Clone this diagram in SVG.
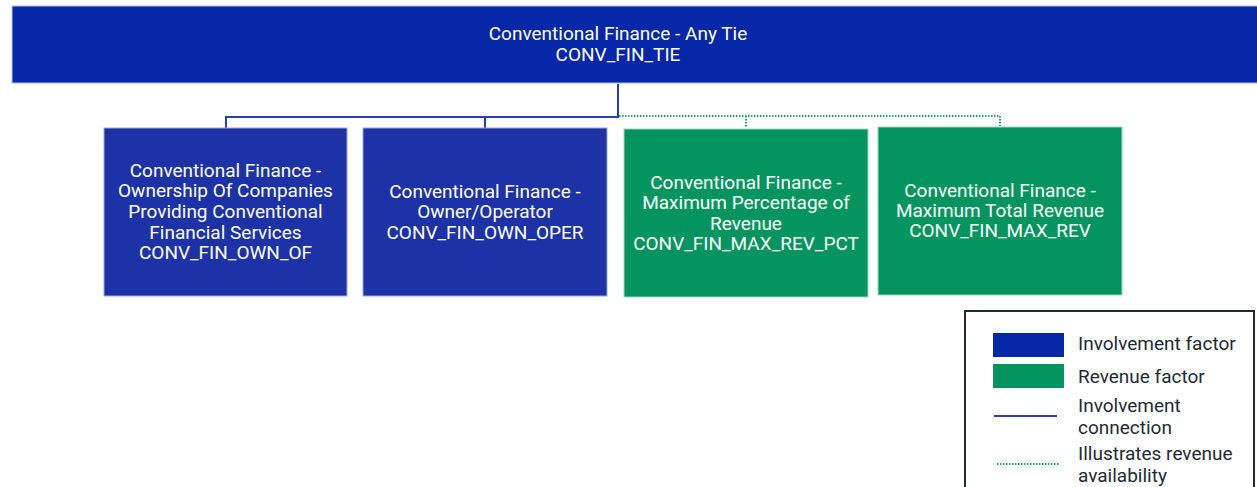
<svg xmlns="http://www.w3.org/2000/svg" width="1257" height="487" viewBox="0 0 1257 487">
<style>
.t{font-family:Roboto,"Liberation Sans",sans-serif;font-size:19px;fill:#ffffff;text-anchor:middle}
.lg{font-family:Roboto,"Liberation Sans",sans-serif;font-size:19px;fill:#1d2a36}
.inv{fill:#1e32a8;stroke:#9aa6dd;stroke-width:1}
.rev{fill:#03945f;stroke:#9fd6c0;stroke-width:1}
.cb{stroke:#2a3fb5;stroke-width:2;fill:none}
.cg{stroke:#2aa673;stroke-width:2;fill:none;stroke-dasharray:1.5 1.5}
</style>
<rect width="1257" height="487" fill="#ffffff"/>
<g id="root">
<rect x="12" y="6" width="1250" height="77" fill="#0527a8" stroke="#b6c0e6" stroke-width="1"/>
<text class="t" x="618" y="40">Conventional Finance - Any Tie</text>
<text class="t" x="618" y="61">CONV_FIN_TIE</text>
</g>
<g id="connectors">
<path class="cb" d="M618 84 V117 H226 V128 M485 117 V128"/>
<path class="cg" d="M619 116 H1000 V126 M746 116 V128"/>
</g>
<g id="n1">
<rect class="inv" x="104" y="128" width="243" height="168"/>
<text class="t" x="225.5" y="177">Conventional Finance -</text>
<text class="t" x="225.5" y="197">Ownership Of Companies</text>
<text class="t" x="225.5" y="218">Providing Conventional</text>
<text class="t" x="225.5" y="239">Financial Services</text>
<text class="t" x="225.5" y="259">CONV_FIN_OWN_OF</text>
</g>
<g id="n2">
<rect class="inv" x="363" y="128" width="244" height="168"/>
<text class="t" x="485" y="198">Conventional Finance -</text>
<text class="t" x="485" y="218">Owner/Operator</text>
<text class="t" x="485" y="239">CONV_FIN_OWN_OPER</text>
</g>
<g id="n3">
<rect class="rev" x="624" y="129" width="244" height="168"/>
<text class="t" x="746" y="189">Conventional Finance -</text>
<text class="t" x="746" y="209">Maximum Percentage of</text>
<text class="t" x="746" y="230">Revenue</text>
<text class="t" x="746" y="250">CONV_FIN_MAX_REV_PCT</text>
</g>
<g id="n4">
<rect class="rev" x="878" y="127" width="244" height="168"/>
<text class="t" x="1000" y="197">Conventional Finance -</text>
<text class="t" x="1000" y="217">Maximum Total Revenue</text>
<text class="t" x="1000" y="237">CONV_FIN_MAX_REV</text>
</g>
<g id="legend">
<rect x="965" y="311" width="289" height="190" fill="#ffffff" stroke="#1d2a36" stroke-width="2"/>
<rect x="993" y="333" width="71" height="24" fill="#0527a8"/>
<rect x="993" y="364" width="71" height="24" fill="#03945f"/>
<line x1="994" y1="416" x2="1057" y2="416" stroke="#2a3fb5" stroke-width="2"/>
<line x1="997" y1="464" x2="1060" y2="464" stroke="#2aa673" stroke-width="2" stroke-dasharray="1.5 1.5"/>
<text class="lg" x="1078" y="350">Involvement factor</text>
<text class="lg" x="1078" y="383">Revenue factor</text>
<text class="lg" x="1078" y="412">Involvement</text>
<text class="lg" x="1078" y="434">connection</text>
<text class="lg" x="1078" y="460">Illustrates revenue</text>
<text class="lg" x="1078" y="482">availability</text>
</g>
</svg>
